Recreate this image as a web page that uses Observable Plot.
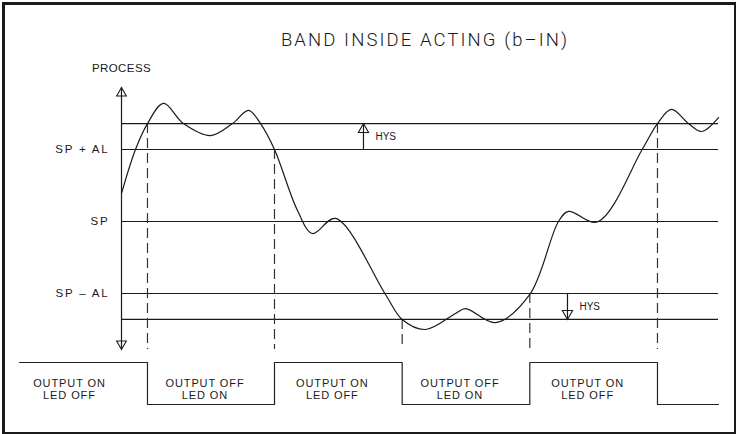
<!DOCTYPE html>
<html>
<head>
<meta charset="utf-8">
<script src="https://cdn.jsdelivr.net/npm/d3@7"></script>
<script src="https://cdn.jsdelivr.net/npm/@observablehq/plot@0.6"></script>
<style>
  body { margin: 0; background: #fff; }
  #page { position: relative; width: 736px; height: 434px; overflow: hidden; color: #1a1a1a;
          font-family: "Liberation Sans", Arial, sans-serif; }
  #frame { position: absolute; left: 1.5px; top: 1.5px; width: 729px; height: 427px;
           border: 3px solid #1a1a1a; pointer-events: none; }
  #title { position: absolute; left: 125px; width: 600px; top: 30px; text-align: center;
           font-family: "Roboto", "Liberation Sans", sans-serif; font-weight: 300;
           font-size: 18.5px; letter-spacing: 2.1px; line-height: 20px; margin: 0; }
  #process { position: absolute; left: 0; top: 60px; }
  #output { position: absolute; left: 0; top: 352px; }
</style>
</head>
<body>
<div id="page">
  <div id="title">BAND INSIDE ACTING (b–IN)</div>
  <div id="process"></div>
  <div id="output"></div>
  <div id="frame"></div>
</div>
<script>
// ---- levels (process units) ----
const SP = 0;
const AL = 3;
const HYS = 1.08;
const levelTicks = [AL, SP, -AL];
const levelLabels = ["SP + AL", "SP", "SP – AL"];
const bandLines = [AL + HYS, AL, SP, -AL, -(AL + HYS)];

// ---- time range ----
const tStart = -17;
const tEnd = 99.5;
const axisTop = 5.58;
const axisBottom = -5.33;

// ---- process curve (time, value) ----
const curveT = [0, 2.33, 4.33, 7.0, 10.33, 14.83, 18.5, 21.17, 23.17, 25.5, 29.33, 31.83, 35.67,
                44, 46.78, 50.67, 55.67, 57.33, 62.33, 68.05, 72.83, 74.5, 79.33, 86.78, 89.33,
                91.67, 94.5, 96.67, 99.5];
const curveV = [1.17, 3.0, 4.08, 4.92, 4.08, 3.58, 4.08, 4.63, 4.08, 3.0, 0.46, -0.5, 0.13,
                -3.04, -4.08, -4.5, -3.83, -3.63, -4.21, -3.04, 0, 0.42, -0.02, 3.0, 4.08,
                4.67, 4.08, 3.75, 4.33];

// ---- switching events ----
const switchT = [4.33, 25.5, 46.78, 68.05, 89.33];
const switchLevel = [AL + HYS, AL, -(AL + HYS), -AL, AL + HYS];
const outputStates = ["ON", "OFF", "ON", "OFF", "ON", "OFF"];

// ---- hysteresis markers ----
const hysT = [40.33, 74.33];
const hysFrom = [AL, -AL];
const hysTo = [AL + HYS, -(AL + HYS)];
const hysText = ["HYS", "HYS"];

const ink = "#1a1a1a";
const curve = curveT.map((t, i) => ({t, v: curveV[i]}));
const dashes = switchT.map((t, i) => ({t, top: switchLevel[i]}));
const hys = hysT.map((t, i) => ({t, from: hysFrom[i], to: hysTo[i], label: hysText[i], up: hysTo[i] > hysFrom[i]}));

const xScale = {domain: [tStart, tEnd], range: [19, 718]};

const process = Plot.plot({
  width: 736, height: 292,
  marginLeft: 121, marginRight: 18, marginTop: 5, marginBottom: 0,
  x: {...xScale, axis: null},
  y: {domain: [-5.5, 6.5], range: [293, 5], axis: null},
  style: {fontFamily: "'Liberation Sans', Arial, sans-serif", fontSize: "11px", color: ink, overflow: "visible"},
  marks: [
    Plot.ruleY(bandLines, {x1: 0, x2: tEnd, stroke: ink, strokeWidth: 1.2}),
    Plot.ruleX(dashes, {x: "t", y1: "top", y2: axisBottom, stroke: "#333", strokeWidth: 1.2, strokeDasharray: "10,5"}),
    Plot.ruleX([0], {y1: axisBottom, y2: axisTop, stroke: ink, strokeWidth: 1.2}),
    Plot.dot([axisTop], {x: 0, y: d => d, symbol: "triangle", r: 3.6, dy: 5.6, fill: "none", stroke: ink, strokeWidth: 1.1}),
    Plot.dot([axisBottom], {x: 0, y: d => d, symbol: "triangle", rotate: 180, r: 3.6, dy: -5.6, fill: "none", stroke: ink, strokeWidth: 1.1}),
    Plot.ruleX(hys, {x: "t", y1: "from", y2: "to", stroke: ink, strokeWidth: 1.2}),
    Plot.dot(hys.filter(d => d.up), {x: "t", y: "to", symbol: "triangle", r: 3.8, dy: 5.9, fill: "none", stroke: ink, strokeWidth: 1.1}),
    Plot.dot(hys.filter(d => !d.up), {x: "t", y: "to", symbol: "triangle", rotate: 180, r: 3.8, dy: -5.9, fill: "none", stroke: ink, strokeWidth: 1.1}),
    Plot.text(hys, {x: "t", y: d => (d.from + d.to) / 2, text: "label", textAnchor: "start", dx: 12, fontSize: 10, fill: ink}),
    Plot.line(curve, {x: "t", y: "v", curve: "catmull-rom", stroke: ink, strokeWidth: 1.2}),
    Plot.axisY(levelTicks, {tickSize: 0, tickPadding: 12, tickFormat: d => levelLabels[levelTicks.indexOf(d)],
      label: null, fontSize: 11.5, stroke: null}),
    Plot.text(["PROCESS"], {x: 0, y: 6.375, text: d => d, fontSize: 11.5, fill: ink})
  ]
});
document.getElementById("process").append(process);
d3.select(process).selectAll('g[aria-label="y-axis tick label"] text').style("letter-spacing", "1.8px");
d3.select(process).selectAll('g[aria-label="text"] text').filter(function() { return this.textContent === "PROCESS"; })
  .style("letter-spacing", "0.4px");

// ---- output panel ----
const steps = switchT.map((t, i) => ({t, s: outputStates[i + 1]}));
steps.unshift({t: tStart, s: outputStates[0]});
steps.push({t: tEnd, s: outputStates[outputStates.length - 1]});
const bounds = [tStart - 2.67, ...switchT, tEnd];
const segs = outputStates.slice(0, 5).map((s, i) => ({
  mid: (bounds[i] + bounds[i + 1]) / 2,
  label: s === "ON" ? "OUTPUT ON\nLED OFF" : "OUTPUT OFF\nLED ON"
}));

const output = Plot.plot({
  width: 736, height: 82,
  marginLeft: 19, marginRight: 18, marginTop: 10, marginBottom: 30,
  x: {...xScale, axis: null},
  y: {domain: ["OFF", "ON"], range: [52, 10], type: "point", padding: 0, axis: null},
  style: {fontFamily: "'Liberation Sans', Arial, sans-serif", fontSize: "11px", color: ink},
  marks: [
    Plot.line(steps, {x: "t", y: "s", curve: "step-after", stroke: "#222", strokeWidth: 1.2}),
    Plot.text(segs, {x: "mid", text: "label", frameAnchor: "middle", dy: 5.5, dx: -6, lineHeight: 1.15,
      fontSize: 11, fill: ink})
  ]
});
document.getElementById("output").append(output);
d3.select(output).selectAll('g[aria-label="text"] text').style("letter-spacing", "0.9px");
</script>
</body>
</html>
